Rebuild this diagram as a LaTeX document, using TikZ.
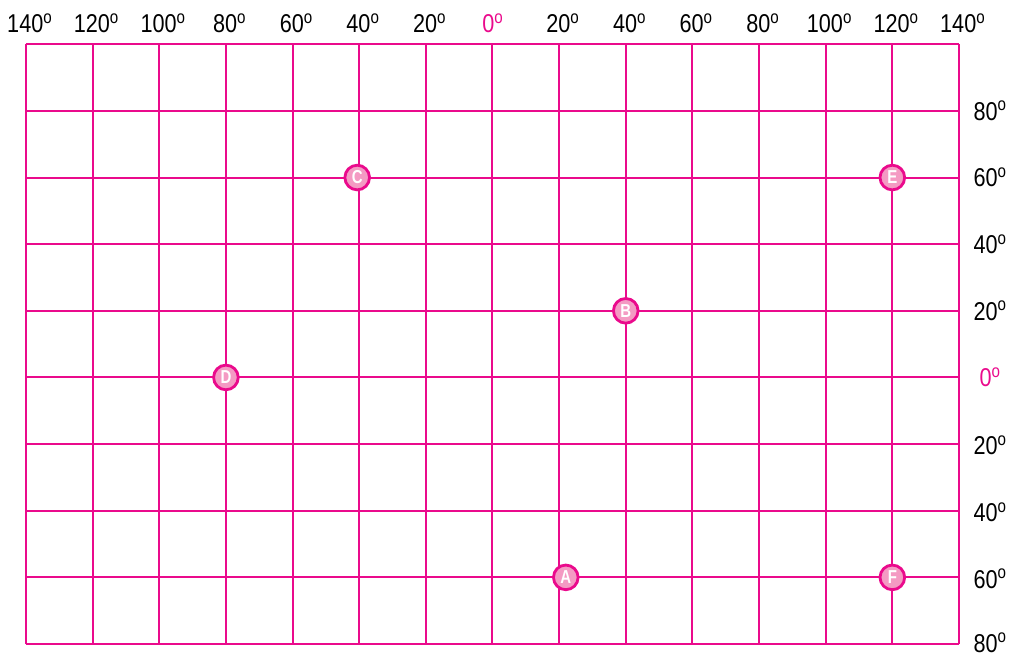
\documentclass[tikz,border=0pt]{standalone}
\usepackage{fontspec}
\setmainfont{Liberation Sans}
\usetikzlibrary{positioning}
\definecolor{gridpink}{HTML}{EA0A8C}
\definecolor{dotpink}{HTML}{F49AC3}
\newcommand{\deglab}[1]{\scalebox{0.84}[1]{#1\textsuperscript{o}}}
\tikzset{
  gridline/.style={draw=gridpink, line width=0.85pt},
  deg/.style={font=\fontsize{11}{13}\selectfont, inner sep=0pt},
  spot/.style={circle, draw=gridpink, fill=dotpink, line width=1.2pt, minimum size=0.37cm, inner sep=0pt, text=white, font=\fontsize{8}{8}\selectfont\bfseries}
}
\begin{document}
\begin{tikzpicture}
    \useasboundingbox (-0.39,-0.165) rectangle (14.751,9.664);
    % grid
    \foreach \x in {0,...,14} \draw[gridline] (\x,0) -- (\x,9);
    \foreach \y in {0,...,9} \draw[gridline] (0,\y) -- (14,\y);
    % longitude along the top
    \foreach \lab [count=\i from 0] in {140,120,100,80,60,40,20}
      \node[deg] (west\i) at (\i+0.06,9.31) {\deglab{\lab}};
    \node[deg, text=gridpink] (lon0) at (7.01,9.31) {\deglab{0}};
    \foreach \lab [count=\i from 8] in {20,40,60,80,100,120,140}
      \node[deg] (east\i) at (\i+0.06,9.31) {\deglab{\lab}};
    % latitude on the right
    \foreach \lab [count=\j from 5] in {20,40,60,80}
      \node[deg] (north\j) at (14.47,\j) {\deglab{\lab}};
    \node[deg, text=gridpink] (lat0) at (14.47,4) {\deglab{0}};
    \foreach \lab [count=\j from 1] in {60,40,20}
      \node[deg] (south\j) at (14.47,\j-0.02) {\deglab{\lab}};
    \node[deg] (south0) at (14.47,0.02) {\deglab{80}};
    % places
    \node[spot] (spotA) at (8.1,1) {\scalebox{0.8}[1]{A}};
    \node[spot] (spotB) at (9,5) {\scalebox{0.8}[1]{B}};
    \node[spot] (spotC) at (4.97,7) {\scalebox{0.8}[1]{C}};
    \node[spot] (spotD) at (3,4) {\scalebox{0.8}[1]{D}};
    \node[spot] (spotE) at (13,7) {\scalebox{0.8}[1]{E}};
    \node[spot] (spotF) at (13,1) {\scalebox{0.8}[1]{F}};
\end{tikzpicture}
\end{document}
